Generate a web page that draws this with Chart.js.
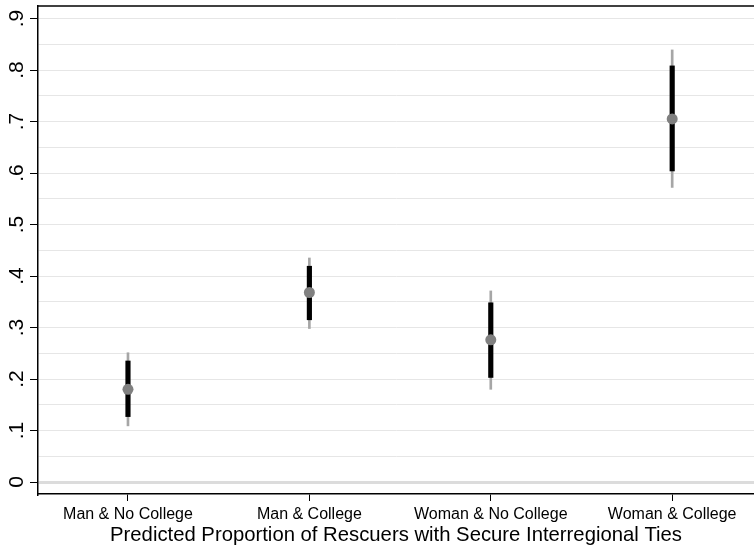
<!DOCTYPE html>
<html>
<head>
<meta charset="utf-8">
<script src="https://cdn.jsdelivr.net/npm/chart.js@4/dist/chart.umd.min.js"></script>
<style>
  html, body { margin: 0; padding: 0; background: #fff; }
  #wrap { width: 754px; height: 546px; }
</style>
</head>
<body>
<div id="wrap"><canvas id="ciChart"></canvas></div>
<script>
// data
var groups = ["Man & No College", "Man & College", "Woman & No College", "Woman & College"];
var groupPos = [1, 2, 3, 4];
var estimate = [0.180, 0.368, 0.276, 0.705];
var innerLow = [0.127, 0.315, 0.203, 0.604];
var innerHigh = [0.235, 0.419, 0.348, 0.808];
var outerLow = [0.109, 0.298, 0.180, 0.572];
var outerHigh = [0.251, 0.435, 0.371, 0.839];
var yGridValues = [0, 0.05, 0.1, 0.15, 0.2, 0.25, 0.3, 0.35, 0.4, 0.45, 0.5, 0.55, 0.6, 0.65, 0.7, 0.75, 0.8, 0.85, 0.9];
var yLabelValues = [0, 0.1, 0.2, 0.3, 0.4, 0.5, 0.6, 0.7, 0.8, 0.9];
var yLabels = ["0", ".1", ".2", ".3", ".4", ".5", ".6", ".7", ".8", ".9"];
var xTitle = "Predicted Proportion of Rescuers with Secure Interregional Ties";

var FONT = '"Liberation Sans", Arial, Helvetica, sans-serif';
Chart.defaults.font.family = FONT;
Chart.defaults.color = "#000";

function ranges(lo, hi) {
  return groupPos.map(function (p, i) { return { x: p, y: [lo[i], hi[i]] }; });
}

// top frame line + rotated y labels (Stata style)
var framePlugin = {
  id: "frame",
  afterDraw: function (chart) {
    var c = chart.ctx, a = chart.chartArea, ys = chart.scales.y;
    c.save();
    c.strokeStyle = "#000";
    c.lineWidth = 1.5;
    c.beginPath();
    c.moveTo(a.left, a.top);
    c.lineTo(chart.width, a.top);
    c.stroke();
    c.fillStyle = "#000";
    c.font = "21px " + FONT;
    c.textAlign = "center";
    c.textBaseline = "alphabetic";
    yLabelValues.forEach(function (v, i) {
      c.save();
      c.translate(a.left - 15.5, ys.getPixelForValue(v));
      c.rotate(-Math.PI / 2);
      c.fillText(yLabels[i], 0, 0);
      c.restore();
    });
    c.restore();
  }
};

var ctx = document.getElementById("ciChart");
new Chart(ctx, {
  type: "bar",
  data: {
    datasets: [
      {
        type: "scatter",
        label: "Estimate",
        data: groupPos.map(function (p, i) { return { x: p, y: estimate[i] }; }),
        pointRadius: 5.5,
        pointBackgroundColor: "#808080",
        pointBorderWidth: 0,
        showLine: false,
        order: 0
      },
      {
        label: "Inner",
        data: ranges(innerLow, innerHigh),
        backgroundColor: "#000",
        borderWidth: 0,
        barThickness: 4.5,
        grouped: false,
        order: 1
      },
      {
        label: "Outer",
        data: ranges(outerLow, outerHigh),
        backgroundColor: "#a6a6a6",
        borderWidth: 0,
        barThickness: 2,
        grouped: false,
        order: 2
      }
    ]
  },
  options: {
    responsive: true,
    maintainAspectRatio: false,
    animation: false,
    layout: { autoPadding: false, padding: { top: 6, left: 0, right: 0, bottom: 0 } },
    plugins: {
      legend: { display: false },
      tooltip: { enabled: false }
    },
    scales: {
      x: {
        type: "linear",
        min: 0.504,
        max: 4.451,
        offset: false,
        afterBuildTicks: function (scale) {
          scale.ticks = groupPos.map(function (p) { return { value: p }; });
        },
        afterFit: function (scale) {
          scale.height = 52;
          scale.paddingLeft = 0;
          scale.paddingRight = 0;
        },
        grid: {
          display: true,
          offset: false,
          drawOnChartArea: false,
          drawTicks: true,
          tickLength: 7,
          tickColor: "#000",
          tickWidth: 1
        },
        border: { display: true, color: "#000", width: 1.5 },
        ticks: {
          autoSkip: false,
          maxRotation: 0,
          padding: 4,
          font: { size: 16 },
          color: "#000",
          callback: function (value) {
            var i = groupPos.indexOf(value);
            return i >= 0 ? groups[i] : "";
          }
        },
        title: {
          display: true,
          text: xTitle,
          font: { size: 20.3 },
          color: "#000",
          padding: { top: 0, bottom: -2 }
        }
      },
      y: {
        type: "linear",
        min: -0.0233,
        max: 0.9243,
        afterBuildTicks: function (scale) {
          scale.ticks = yGridValues.map(function (v) { return { value: v }; });
        },
        afterFit: function (scale) {
          scale.width = 38;
          scale.paddingTop = 0;
          scale.paddingBottom = 0;
        },
        grid: {
          drawTicks: true,
          tickLength: 8,
          color: function (c) { return c.tick && c.tick.value === 0 ? "#dcdcdc" : "#e6e6e6"; },
          lineWidth: function (c) { return c.tick && c.tick.value === 0 ? 3 : 1; },
          tickColor: function (c) {
            return c.tick && yLabelValues.indexOf(c.tick.value) >= 0 ? "#000" : "rgba(0,0,0,0)";
          },
          tickWidth: 1
        },
        border: { display: true, color: "#000", width: 1.5 },
        ticks: { display: false }
      }
    }
  },
  plugins: [framePlugin]
});
</script>
</body>
</html>
